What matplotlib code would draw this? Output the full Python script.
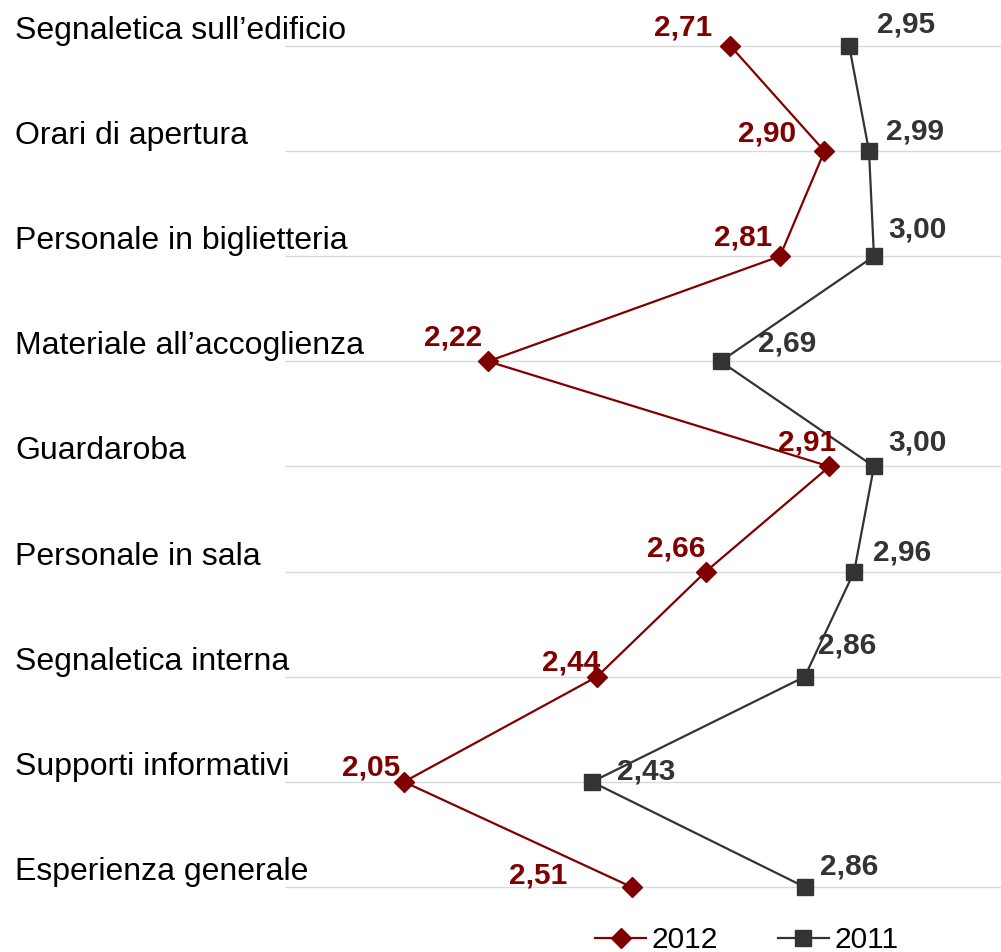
import matplotlib
matplotlib.use("Agg")
import matplotlib.pyplot as plt
from matplotlib.lines import Line2D

categories = [
    "Segnaletica sull\u2019edificio",
    "Orari di apertura",
    "Personale in biglietteria",
    "Materiale all\u2019accoglienza",
    "Guardaroba",
    "Personale in sala",
    "Segnaletica interna",
    "Supporti informativi",
    "Esperienza generale",
]
values_2012 = [2.71, 2.90, 2.81, 2.22, 2.91, 2.66, 2.44, 2.05, 2.51]
values_2011 = [2.95, 2.99, 3.00, 2.69, 3.00, 2.96, 2.86, 2.43, 2.86]

# label offsets in pixels (layout only)
off_2012 = [(-18, 19), (-28, 18), (-8, 19), (-6, 24), (7, 24),
            (0, 23), (3, 14), (-4, 14), (-64, 11)]
off_2011 = [(28, 22), (17, 20), (14, 27), (37, 18), (14, 24),
            (19, 19), (13, 31), (25, 10), (15, 20)]

red = "#800000"
dark = "#333333"
plt.rcParams["font.family"] = ["Liberation Sans", "DejaVu Sans"]

fig = plt.figure(figsize=(10.01, 9.52), dpi=100)
ax = fig.add_axes([285 / 1001, 0, 1 - 285 / 1001, 1])
rows = list(range(len(categories)))

ax.set_xlim(1.8095, 3.2568)
ax.set_ylim(8 + 65 / 105.1, -46 / 105.1)
ax.hlines(rows, 1.8095, 3.2568, color="#d9d9d9", lw=1, zorder=0)
for s in ax.spines.values():
    s.set_visible(False)
ax.set_xticks([])
ax.set_yticks([])

ax.plot(values_2012, rows, color=red, lw=1.6, marker="D", ms=10.5, zorder=3)
ax.plot(values_2011, rows, color=dark, lw=1.6, marker="s", ms=12, zorder=3)

for i, v in enumerate(values_2012):
    ax.annotate(f"{v:.2f}".replace(".", ","), (v, i), xytext=off_2012[i],
                textcoords="offset pixels", ha="right", va="center",
                fontsize=21.5, fontweight="bold", color=red, zorder=4)
for i, v in enumerate(values_2011):
    ax.annotate(f"{v:.2f}".replace(".", ","), (v, i), xytext=off_2011[i],
                textcoords="offset pixels", ha="left", va="center",
                fontsize=21.5, fontweight="bold", color=dark, zorder=4)

for i, c in enumerate(categories):
    ax.annotate(c, (15 / 1001, i), xycoords=("figure fraction", "data"),
                xytext=(0, 7), textcoords="offset pixels",
                ha="left", va="baseline", fontsize=23, color="black",
                annotation_clip=False)

handles = [
    Line2D([], [], color=red, lw=1.6, marker="D", ms=10.5),
    Line2D([], [], color=dark, lw=1.6, marker="s", ms=12),
]
fig.legend(handles, ["2012", "2011"], loc="center", ncol=2,
           bbox_to_anchor=(747 / 1001, 1 - 940 / 952), frameon=False,
           fontsize=21.5, handlelength=1.7, handletextpad=0.2,
           columnspacing=2.0, borderpad=0)

fig.savefig("out.png", dpi=100)
